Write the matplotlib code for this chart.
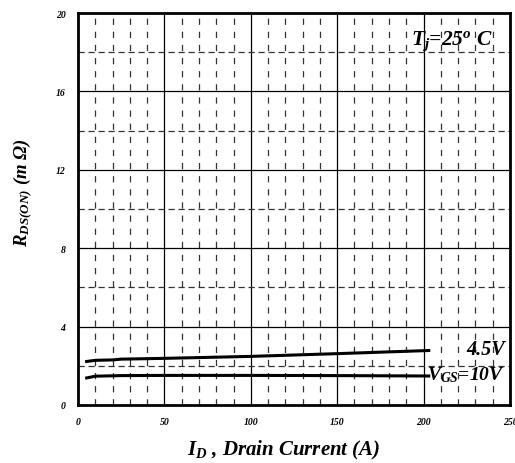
import matplotlib
matplotlib.use("Agg")
import matplotlib.pyplot as plt
import numpy as np

plt.rcParams['font.family'] = 'Liberation Serif'
plt.rcParams['mathtext.fontset'] = 'custom'
plt.rcParams['mathtext.rm'] = 'Liberation Serif:bold:italic'
plt.rcParams['mathtext.it'] = 'Liberation Serif:bold:italic'
plt.rcParams['mathtext.bf'] = 'Liberation Serif:bold:italic'

# Data
id_45 = [5, 10, 20, 25, 50, 100, 150, 203]
r_45 = [2.22, 2.28, 2.30, 2.34, 2.38, 2.48, 2.62, 2.78]
id_10 = [5, 10, 25, 50, 100, 150, 203]
r_10 = [1.38, 1.47, 1.50, 1.51, 1.51, 1.50, 1.48]
x_ticks = [0, 50, 100, 150, 200, 250]
y_ticks = [0, 4, 8, 12, 16, 20]

W, H = 515, 464
fig = plt.figure(figsize=(W/100, H/100), dpi=100)
ax = fig.add_axes([78/W, 1-406/H, (510-78)/W, (406-14)/H])
ax.set_xlim(0, 250)
ax.set_ylim(0, 20)

# grid
for x in np.arange(10, 250, 10):
    if x % 50 == 0:
        ax.axvline(x, color='black', lw=0.9, zorder=1)
    else:
        ax.axvline(x, color='#333333', lw=0.9, dashes=(5, 5.5), zorder=1)
for y in np.arange(2, 20, 2):
    if y % 4 == 0:
        ax.axhline(y, color='black', lw=0.9, zorder=1)
    else:
        ax.axhline(y, color='#333333', lw=0.9, dashes=(5, 3), zorder=1)

ax.plot(id_45, r_45, color='black', lw=2.2, zorder=3)
ax.plot(id_10, r_10, color='black', lw=2.2, zorder=3)

for s in ax.spines.values():
    s.set_linewidth(2)

ax.set_xticks(x_ticks)
ax.set_yticks(y_ticks)
ax.tick_params(length=0, pad=9)
ax.set_xticklabels([str(v) for v in x_ticks], fontsize=7, fontweight='bold', fontstyle='italic')
ax.set_yticklabels([str(v) for v in y_ticks], fontsize=7, fontweight='bold', fontstyle='italic')

fig.text(283.5/W, 1-450/H, r'$I_D$ , Drain Current (A)', fontsize=15, fontweight='bold',
         fontstyle='italic', ha='center', va='center')
fig.text(23/W, 1-193/H, r'$R_{DS(ON)}$ (m $\Omega$)', fontsize=13.5, fontweight='bold',
         fontstyle='italic', ha='center', va='center', rotation=90)

ax.text(240, 18.6, r'$T_j$=25$^o$ C', fontsize=15.5, fontweight='bold', fontstyle='italic',
        ha='right', va='center', zorder=4)
ax.text(247, 2.85, '4.5V', fontsize=14.5, fontweight='bold', fontstyle='italic',
        ha='right', va='center', zorder=4)
ax.text(247, 1.55, r'$V_{GS}$=10V', fontsize=14, fontweight='bold', fontstyle='italic',
        ha='right', va='center', zorder=4)

fig.savefig('out.png', dpi=100)
